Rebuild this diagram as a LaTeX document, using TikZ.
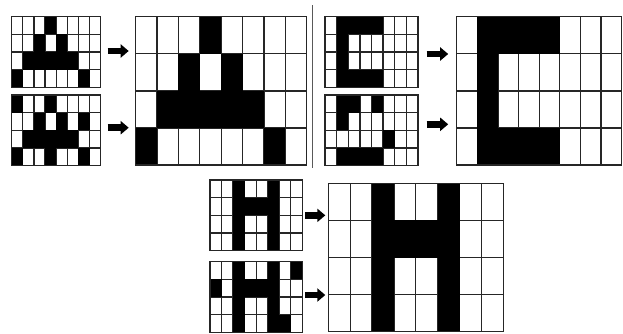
\documentclass[tikz,border=0pt]{standalone}
\usetikzlibrary{arrows.meta}
\tikzset{
  gridline/.style={draw=black!85, line width=1.3pt},
  cellfill/.style={fill=black},
  gridanchor/.style={inner sep=0pt, outer sep=0pt, anchor=north west},
  fatarrow/.style={line width=6.5pt, -{Triangle[length=8pt,width=13pt]}},
  separator/.style={draw=black!65, line width=1.2pt}
}
\newcommand{\pixgrid}[6]{%
  \node[gridanchor, minimum width=#4pt, minimum height=#5pt] (#1) at (#2,#3) {};
  \foreach \i in {1,...,7}{\draw[gridline] (#2+\i*#4/8, #3) -- ++(0,#5);}
  \foreach \j in {1,2,3}{\draw[gridline] (#2, #3+\j*#5/4) -- ++(#4,0);}
  \foreach \c/\r in {#6}{\fill[cellfill] (#2+\c*#4/8, #3+\r*#5/4) rectangle ++(#4/8, #5/4);}
  \draw[gridline] (#1.north west) rectangle (#1.south east);
}
\newcommand{\fatto}[5]{%
  \coordinate (#1s) at ([yshift=#4]#2.east);
  \draw[fatarrow, shorten <=#5, shorten >=#5] (#1s) -- (#1s -| #3.west);
}
\begin{document}
\begin{tikzpicture}[x=1pt,y=-1pt]
\useasboundingbox (0,0) rectangle (623,333);
% A
\pixgrid{Aone}{11.7}{16.7}{89}{70.6}{3/0,2/1,4/1,1/2,2/2,3/2,4/2,5/2,0/3,6/3}
\pixgrid{Atwo}{11.7}{95}{89}{70.6}{0/0,3/0,2/1,4/1,6/1,1/2,2/2,3/2,4/2,5/2,0/3,3/3,6/3}
\pixgrid{Abig}{135.7}{16.7}{171}{148.3}{3/0,2/1,4/1,1/2,2/2,3/2,4/2,5/2,0/3,6/3}
% C
\pixgrid{Cone}{325}{16.7}{93}{70.6}{1/0,2/0,3/0,4/0,1/1,1/2,1/3,2/3,3/3,4/3}
\pixgrid{Ctwo}{325}{95}{93}{70.6}{1/0,2/0,4/0,1/1,5/2,1/3,2/3,3/3,4/3}
\pixgrid{Cbig}{456.7}{16.7}{165}{148.3}{1/0,2/0,3/0,4/0,1/1,1/2,1/3,2/3,3/3,4/3}
% H
\pixgrid{Hone}{210}{180}{92.3}{70.7}{2/0,5/0,2/1,3/1,4/1,5/1,2/2,5/2,2/3,5/3}
\pixgrid{Htwo}{210}{261.7}{92.3}{70.6}{2/0,5/0,7/0,0/1,2/1,3/1,4/1,5/1,2/2,5/2,2/3,5/3,6/3}
\pixgrid{Hbig}{328.3}{183.3}{175}{148.4}{2/0,5/0,2/1,3/1,4/1,5/1,2/2,5/2,2/3,5/3}
% separator
\coordinate (septop) at (312.5,5);
\coordinate (sepbot) at (312.5,168);
\draw[separator] (septop) -- (sepbot);
% arrows
\fatto{aa}{Aone}{Abig}{1pt}{7pt}
\fatto{ab}{Atwo}{Abig}{2.6pt}{7pt}
\fatto{ca}{Cone}{Cbig}{-2pt}{8.5pt}
\fatto{cb}{Ctwo}{Cbig}{6pt}{8.5pt}
\fatto{ha}{Hone}{Hbig}{0pt}{3pt}
\fatto{hb}{Htwo}{Hbig}{2pt}{3pt}
\end{tikzpicture}
\end{document}
